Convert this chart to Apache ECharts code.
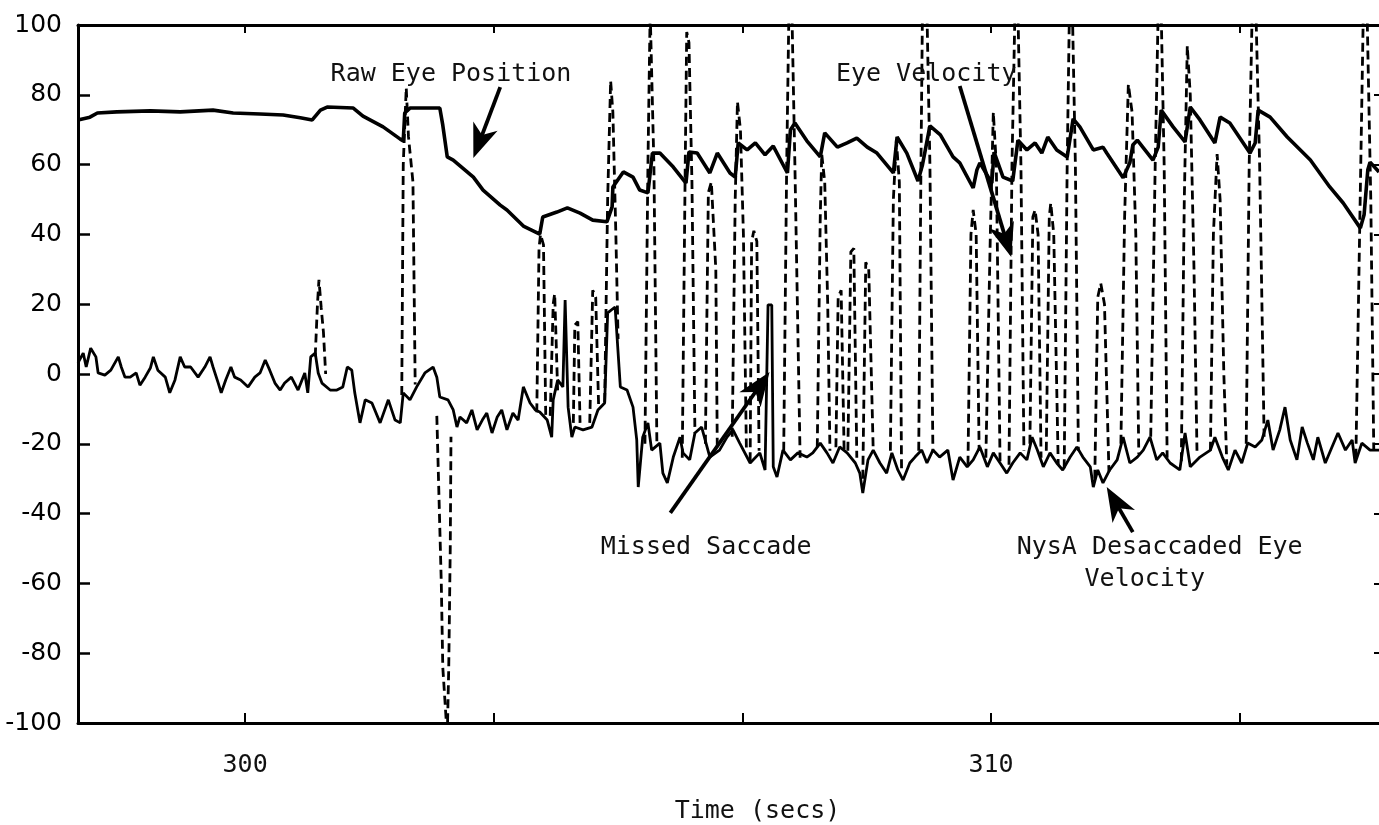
<!DOCTYPE html>
<html><head><meta charset="utf-8">
<script src="https://cdn.jsdelivr.net/npm/echarts@6/dist/echarts.min.js"></script>
<style>html,body{margin:0;padding:0;background:#fff}#c{width:1379px;height:825px}</style>
</head><body><div id="c"></div>
<script>
// Raw eye position (solid, upper trace) [time s, deg]
const rawEyePosition = [[297.76,72.8],[297.92,73.6],[298.02,74.8],[298.28,75.1],[298.73,75.4],[299.13,75.1],[299.57,75.6],[299.84,74.8],[300.20,74.5],[300.51,74.2],[300.74,73.4],[300.90,72.8],[301.01,75.6],[301.10,76.5],[301.45,76.2],[301.58,73.9],[301.85,70.8],[302.08,67.3],[302.12,66.8],[302.14,74.8],[302.21,76.2],[302.61,76.2],[302.65,71.3],[302.71,62.2],[302.79,61.3],[303.06,56.4],[303.19,52.7],[303.42,48.4],[303.51,47.0],[303.73,42.4],[303.95,40.1],[303.99,45.0],[304.18,46.4],[304.32,47.6],[304.49,46.1],[304.66,44.1],[304.85,43.6],[304.92,47.9],[304.93,53.6],[305.07,57.9],[305.20,56.4],[305.29,52.7],[305.40,51.9],[305.46,63.3],[305.56,63.3],[305.74,59.3],[305.91,54.7],[305.95,63.6],[306.06,63.3],[306.23,57.6],[306.33,63.3],[306.50,57.6],[306.57,56.4],[306.61,66.2],[306.73,64.2],[306.84,66.2],[306.97,62.8],[307.08,65.3],[307.27,57.6],[307.31,69.9],[307.37,71.9],[307.53,66.8],[307.71,62.2],[307.77,69.1],[307.94,65.0],[308.07,66.2],[308.20,67.6],[308.34,65.0],[308.47,63.3],[308.69,57.6],[308.74,67.9],[308.87,63.3],[309.02,55.3],[309.08,59.9],[309.18,71.1],[309.32,68.5],[309.49,62.2],[309.58,60.5],[309.76,53.3],[309.81,58.5],[309.85,60.5],[310.01,54.7],[310.04,63.6],[310.16,56.4],[310.29,55.3],[310.36,67.0],[310.48,64.2],[310.59,66.2],[310.68,63.3],[310.76,67.9],[310.88,64.2],[311.02,62.2],[311.10,73.1],[311.19,70.8],[311.37,64.2],[311.50,65.0],[311.55,63.3],[311.77,56.2],[311.86,60.5],[311.90,65.6],[311.96,67.0],[312.17,61.3],[312.24,65.0],[312.28,75.6],[312.44,70.8],[312.60,66.5],[312.67,76.5],[312.80,72.8],[313.00,66.2],[313.07,73.6],[313.20,71.9],[313.47,63.3],[313.54,66.2],[313.58,75.6],[313.74,73.6],[313.97,67.9],[314.28,61.3],[314.54,53.6],[314.72,49.0],[314.95,41.8],[315.00,45.6],[315.05,58.5],[315.08,60.7],[315.20,57.9]];

// NysA desaccaded eye velocity (solid, lower noisy trace) [time s, deg/s]
const nysaVelocity = [[297.76,3.2],[297.83,6.0],[297.87,2.0],[297.93,7.4],[298.00,4.9],[298.03,0.3],[298.12,-0.3],[298.20,1.1],[298.30,4.9],[298.34,2.0],[298.39,-0.9],[298.46,-0.9],[298.54,0.3],[298.59,-3.2],[298.66,-0.9],[298.73,1.7],[298.77,4.9],[298.83,1.1],[298.93,-0.9],[298.99,-5.4],[299.06,-1.7],[299.13,4.9],[299.19,2.0],[299.27,2.0],[299.37,-0.9],[299.46,2.0],[299.53,4.9],[299.57,2.0],[299.64,-2.6],[299.68,-5.4],[299.74,-1.7],[299.81,2.0],[299.86,-0.9],[299.94,-1.7],[300.04,-3.7],[300.13,-0.9],[300.20,0.3],[300.27,4.0],[300.33,1.1],[300.40,-2.6],[300.47,-4.6],[300.53,-2.6],[300.62,-0.9],[300.71,-4.6],[300.80,0.3],[300.84,-5.4],[300.88,4.9],[300.94,6.0],[300.98,0.3],[301.03,-2.6],[301.14,-4.6],[301.23,-4.6],[301.31,-3.7],[301.37,2.0],[301.43,1.1],[301.47,-5.4],[301.54,-14.0],[301.61,-7.4],[301.70,-8.3],[301.81,-14.0],[301.92,-7.4],[302.01,-13.2],[302.08,-14.0],[302.12,-5.4],[302.21,-7.4],[302.30,-3.7],[302.41,0.3],[302.52,2.0],[302.57,-0.9],[302.61,-6.6],[302.72,-7.4],[302.79,-10.3],[302.84,-15.2],[302.88,-12.3],[302.97,-14.0],[303.04,-10.3],[303.11,-16.0],[303.18,-13.2],[303.24,-11.2],[303.31,-16.9],[303.38,-12.3],[303.44,-10.3],[303.51,-16.0],[303.59,-11.2],[303.66,-13.2],[303.73,-3.7],[303.82,-8.3],[303.89,-10.3],[303.95,-10.9],[304.05,-13.2],[304.11,-18.1],[304.13,-7.4],[304.19,-1.7],[304.26,-3.7],[304.29,21.2],[304.33,-9.5],[304.38,-18.1],[304.42,-15.2],[304.53,-16.0],[304.65,-15.2],[304.73,-10.3],[304.82,-8.3],[304.86,17.5],[304.96,19.2],[305.03,-3.7],[305.12,-4.6],[305.20,-9.5],[305.25,-18.9],[305.27,-32.4],[305.33,-18.1],[305.40,-14.0],[305.45,-21.8],[305.56,-19.8],[305.60,-28.4],[305.66,-31.2],[305.74,-23.8],[305.83,-18.1],[305.87,-22.6],[305.96,-24.6],[306.03,-16.9],[306.12,-15.2],[306.23,-23.8],[306.36,-21.8],[306.46,-18.1],[306.54,-16.0],[306.63,-19.8],[306.77,-25.5],[306.90,-22.6],[306.97,-27.5],[307.01,19.8],[307.06,19.8],[307.08,-26.6],[307.13,-29.5],[307.21,-21.8],[307.31,-24.6],[307.41,-22.6],[307.53,-23.8],[307.61,-22.6],[307.71,-19.8],[307.80,-22.6],[307.88,-25.5],[307.97,-20.9],[308.07,-22.6],[308.18,-25.5],[308.24,-28.4],[308.28,-34.1],[308.35,-24.6],[308.42,-21.8],[308.51,-25.5],[308.60,-28.4],[308.67,-22.6],[308.75,-27.5],[308.82,-30.4],[308.91,-25.5],[308.98,-23.8],[309.07,-21.8],[309.14,-25.5],[309.22,-21.8],[309.31,-23.8],[309.42,-21.8],[309.49,-30.4],[309.58,-23.8],[309.68,-26.6],[309.76,-24.6],[309.85,-20.9],[309.95,-26.6],[310.03,-22.6],[310.12,-25.5],[310.21,-28.4],[310.29,-25.5],[310.39,-22.6],[310.48,-24.6],[310.55,-18.1],[310.62,-21.8],[310.70,-26.6],[310.79,-22.6],[310.88,-25.5],[310.96,-27.5],[311.06,-23.8],[311.15,-20.9],[311.23,-23.8],[311.33,-26.6],[311.37,-32.4],[311.43,-27.5],[311.50,-31.2],[311.59,-27.5],[311.69,-24.6],[311.77,-18.1],[311.86,-25.5],[311.96,-23.8],[312.04,-21.8],[312.13,-18.1],[312.22,-24.6],[312.30,-22.6],[312.40,-25.5],[312.53,-27.5],[312.60,-16.9],[312.67,-26.6],[312.80,-23.8],[312.94,-21.8],[313.00,-18.1],[313.10,-23.8],[313.18,-27.5],[313.27,-21.8],[313.36,-25.5],[313.44,-19.8],[313.54,-20.9],[313.63,-18.9],[313.71,-13.2],[313.78,-21.8],[313.87,-16.0],[313.94,-9.5],[314.01,-18.9],[314.10,-24.6],[314.17,-15.2],[314.24,-19.8],[314.32,-24.6],[314.38,-18.1],[314.48,-25.5],[314.57,-20.9],[314.65,-16.9],[314.75,-21.8],[314.84,-18.9],[314.88,-25.5],[314.97,-19.8],[315.08,-21.8],[315.20,-21.8]];

// Eye velocity (dashed): saccadic excursions where it leaves the desaccaded trace [time s, deg/s]
const eyeVelocitySpikes = [
  [[300.94,5],[300.97,20],[300.99,27],[301.02,19],[301.05,12],[301.08,0]],
  [[302.10,-6],[302.12,60],[302.16,82],[302.19,68],[302.25,55],[302.28,-3]],
  [[302.57,-12],[302.63,-60],[302.65,-84],[302.71,-104],[302.73,-84],[302.75,-50],[302.76,-18]],
  [[303.91,-11],[303.94,36],[303.96,40],[304.00,37],[304.03,-12]],
  [[304.09,-12],[304.13,20],[304.15,23],[304.19,-5]],
  [[304.40,-14],[304.42,14],[304.46,15],[304.49,-14]],
  [[304.62,-14],[304.66,24],[304.70,22],[304.74,-10]],
  [[304.82,-8],[304.86,50],[304.90,84],[304.93,75],[304.97,40],[305.00,10]],
  [[305.36,-20],[305.40,60],[305.43,104],[305.45,104],[305.48,60],[305.52,-20]],
  [[305.86,-24],[305.90,60],[305.92,98],[305.95,95],[305.99,55],[306.03,-17]],
  [[306.17,-20],[306.21,52],[306.25,55],[306.31,30],[306.33,-22]],
  [[306.53,-18],[306.57,50],[306.60,78],[306.64,70],[306.68,40],[306.72,-22]],
  [[306.77,-25],[306.79,38],[306.82,41],[306.86,38],[306.89,-22]],
  [[307.22,-22],[307.26,60],[307.29,104],[307.33,104],[307.37,60],[307.44,-24]],
  [[307.67,-21],[307.71,45],[307.73,63],[307.77,55],[307.81,20],[307.84,-22]],
  [[307.92,-21],[307.95,22],[307.99,24],[308.03,-22]],
  [[308.08,-22],[308.12,35],[308.16,36],[308.20,-24]],
  [[308.28,-30],[308.32,32],[308.36,30],[308.42,-22]],
  [[308.65,-22],[308.69,50],[308.73,67],[308.77,55],[308.80,-28]],
  [[309.03,-22],[309.06,60],[309.08,104],[309.14,104],[309.18,60],[309.22,-22]],
  [[309.69,-26],[309.73,40],[309.76,47],[309.80,40],[309.84,-22]],
  [[309.93,-24],[309.99,40],[310.03,75],[310.07,60],[310.12,-25]],
  [[310.24,-26],[310.28,60],[310.32,104],[310.36,104],[310.40,60],[310.44,-22]],
  [[310.52,-20],[310.56,45],[310.59,47],[310.63,40],[310.67,-24]],
  [[310.74,-22],[310.78,45],[310.80,49],[310.84,40],[310.90,-26]],
  [[310.98,-27],[311.02,60],[311.05,104],[311.09,104],[311.13,60],[311.17,-22]],
  [[311.39,-30],[311.43,22],[311.47,26],[311.52,20],[311.58,-28]],
  [[311.74,-20],[311.79,45],[311.84,83],[311.89,75],[311.94,40],[311.98,-23]],
  [[312.14,-18],[312.20,60],[312.24,104],[312.28,104],[312.32,60],[312.36,-24]],
  [[312.55,-25],[312.59,50],[312.63,94],[312.67,80],[312.72,30],[312.76,-22]],
  [[312.94,-22],[312.98,40],[313.03,63],[313.07,50],[313.12,0],[313.16,-26]],
  [[313.42,-20],[313.46,60],[313.50,104],[313.55,104],[313.60,60],[313.66,-18]],
  [[314.89,-24],[314.94,40],[314.99,104],[315.04,104],[315.09,50],[315.13,-22]]
];

const xTickValues = [300, 303.3333, 306.6667, 310, 313.3333];
const xLabelValues = [300, 310];
const xRange = [297.76, 315.2];
const yRange = [-100, 100];
const yStep = 20;

// annotations: text anchor and arrow (tail -> tip) in data coordinates
const annotationTexts = [
  {text: 'Raw Eye Position', at: [302.76, 85.7]},
  {text: 'Eye Velocity', at: [309.13, 85.7]},
  {text: 'Missed Saccade', at: [306.18, -49.6]},
  {text: 'NysA Desaccaded Eye', at: [312.26, -49.6]},
  {text: 'Velocity', at: [312.06, -59.0]}
];
const annotationArrows = [
  {from: [303.42, 82.2], to: [303.06, 61.9]},
  {from: [309.58, 82.5], to: [310.27, 33.5]},
  {from: [305.70, -39.8], to: [307.03, 0.6]},
  {from: [311.90, -45.3], to: [311.55, -32.4]}
];

const chart = echarts.init(document.getElementById('c'), null, {renderer: 'canvas'});
const FONT_TXT = '"DejaVu Sans Mono", monospace';

const spikeSeries = eyeVelocitySpikes.map(seg => ({
  type: 'line', data: seg, showSymbol: false, silent: true, clip: true,
  lineStyle: {color: '#000', width: 2.8, type: [9, 5]}, z: 2
}));

chart.setOption({
  animation: false,
  backgroundColor: '#fff',
  grid: {left: 78, right: 0, top: 25, height: 698, containLabel: false, outerBoundsMode: 'none'},
  xAxis: [{
    type: 'value', min: xRange[0], max: xRange[1], position: 'bottom',
    axisLine: {show: true, onZero: false, lineStyle: {color: '#000', width: 3}},
    axisTick: {show: true, inside: true, length: 10, customValues: xTickValues, lineStyle: {color: '#000', width: 2}},
    axisLabel: {show: true, customValues: xLabelValues, margin: 30, color: '#111', fontSize: 25, fontFamily: FONT_TXT, formatter: v => String(Math.round(v))},
    splitLine: {show: false},
    name: 'Time (secs)', nameLocation: 'middle', nameGap: 76,
    nameTextStyle: {color: '#111', fontSize: 25, fontFamily: FONT_TXT, padding: [0, 0, 0, 58]}
  }, {
    type: 'value', min: xRange[0], max: xRange[1], position: 'top',
    axisLine: {show: true, onZero: false, lineStyle: {color: '#000', width: 3}},
    axisTick: {show: true, inside: true, length: 8, customValues: xTickValues, lineStyle: {color: '#000', width: 2}},
    axisLabel: {show: false}, splitLine: {show: false}
  }],
  yAxis: [{
    type: 'value', min: yRange[0], max: yRange[1], interval: yStep,
    axisLine: {show: true, onZero: false, lineStyle: {color: '#000', width: 3}},
    axisTick: {show: true, inside: true, length: 12, lineStyle: {color: '#000', width: 2.5}},
    axisLabel: {color: '#000', fontSize: 25, fontFamily: '"DejaVu Sans", sans-serif', margin: 16},
    splitLine: {show: false}
  }, {
    type: 'value', min: yRange[0], max: yRange[1], interval: yStep, position: 'right',
    axisLine: {show: false},
    axisTick: {show: true, inside: true, length: 5, lineStyle: {color: '#000', width: 2}},
    axisLabel: {show: false}, splitLine: {show: false}
  }],
  series: spikeSeries.concat([
    {type: 'line', name: 'NysA Desaccaded Eye Velocity', data: nysaVelocity, showSymbol: false, silent: true, clip: true,
     lineStyle: {color: '#000', width: 2.8}, z: 3},
    {type: 'line', name: 'Raw Eye Position', data: rawEyePosition, showSymbol: false, silent: true, clip: true,
     lineStyle: {color: '#000', width: 3.6}, z: 4}
  ])
});

function px(p) { return chart.convertToPixel({xAxisIndex: 0, yAxisIndex: 0}, p); }
const graphics = [];
annotationTexts.forEach(a => {
  const p = px(a.at);
  graphics.push({type: 'text', x: p[0], y: p[1], z: 10, style: {
    text: a.text, fill: '#111', font: '25px "DejaVu Sans Mono", monospace',
    textAlign: 'center', textVerticalAlign: 'middle'}});
});
annotationArrows.forEach(a => {
  const t = px(a.from), h = px(a.to);
  const dx = h[0] - t[0], dy = h[1] - t[1];
  const len = Math.sqrt(dx * dx + dy * dy);
  const ux = dx / len, uy = dy / len;
  const L = 34, W = 13;
  const bx = h[0] - ux * L, by = h[1] - uy * L;
  graphics.push({type: 'line', z: 10, shape: {x1: t[0], y1: t[1], x2: h[0] - ux * 12, y2: h[1] - uy * 12},
    style: {stroke: '#000', lineWidth: 3.8}});
  graphics.push({type: 'polygon', z: 10, shape: {points: [[h[0], h[1]], [bx - uy * W, by + ux * W], [h[0] - ux * L * 0.72, h[1] - uy * L * 0.72], [bx + uy * W, by - ux * W]]},
    style: {fill: '#000'}});
});
chart.setOption({graphic: graphics});
</script>
</body></html>
